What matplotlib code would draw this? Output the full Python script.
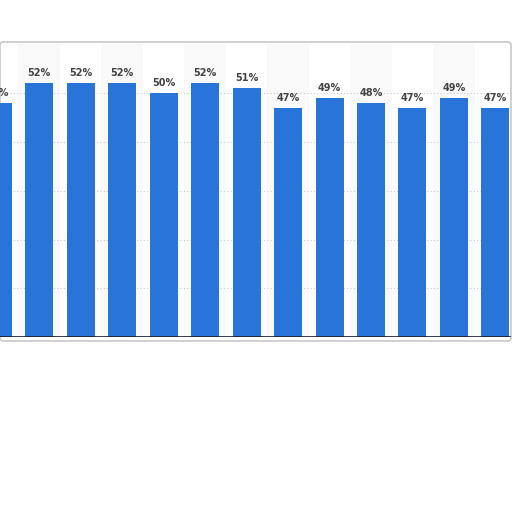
import matplotlib
matplotlib.use("Agg")
import matplotlib.pyplot as plt
import matplotlib.patches as patches
import numpy as np

# 表示されている値（左端は途中で切れている）
values = [48, 52, 52, 52, 50, 52, 51, 47, 49, 48, 47, 49, 47]
labels = [f"{v}%" for v in values]
gridlines = [10, 20, 30, 40, 50]

bar_color = "#2874d9"
band_color = "#f9f9f9"

fig = plt.figure(figsize=(5.12, 5.12), dpi=100)

# 外枠（角丸の灰色の枠）
frame = patches.FancyBboxPatch((0.0, 0.334), 0.998, 0.584,
                               boxstyle="round,pad=0,rounding_size=0.006",
                               transform=fig.transFigure, linewidth=1.2,
                               edgecolor="#c8c8c8", facecolor="white", zorder=-1)
fig.patches.append(frame)

ax = fig.add_axes([0.0, 0.3412, 0.998, 0.5725])
ax.set_facecolor("none")
ax.set_zorder(1)

x = np.arange(len(values))

#交互の背景帯
for i in x:
    if i % 2 == 1:
        ax.axvspan(i - 0.5, i + 0.5, color=band_color, zorder=0, linewidth=0)

#グリッド
for g in gridlines:
    ax.axhline(g, color="#cccccc", linestyle=(0, (1, 2)), linewidth=0.8, zorder=1)

ax.bar(x, values, width=0.675, color=bar_color, zorder=2)
ax.axhline(0, color="#1a1a2e", linewidth=1.2, zorder=3)

for xi, v, lab in zip(x, values, labels):
    ax.text(xi, v + 1.0, lab, ha="center", va="bottom", fontsize=7,
            fontweight="bold", color="#444444", zorder=4)

ax.set_xlim(0.055, 12.375)
ax.set_ylim(0, 60)
ax.axis("off")

fig.savefig("out.png", dpi=100)
